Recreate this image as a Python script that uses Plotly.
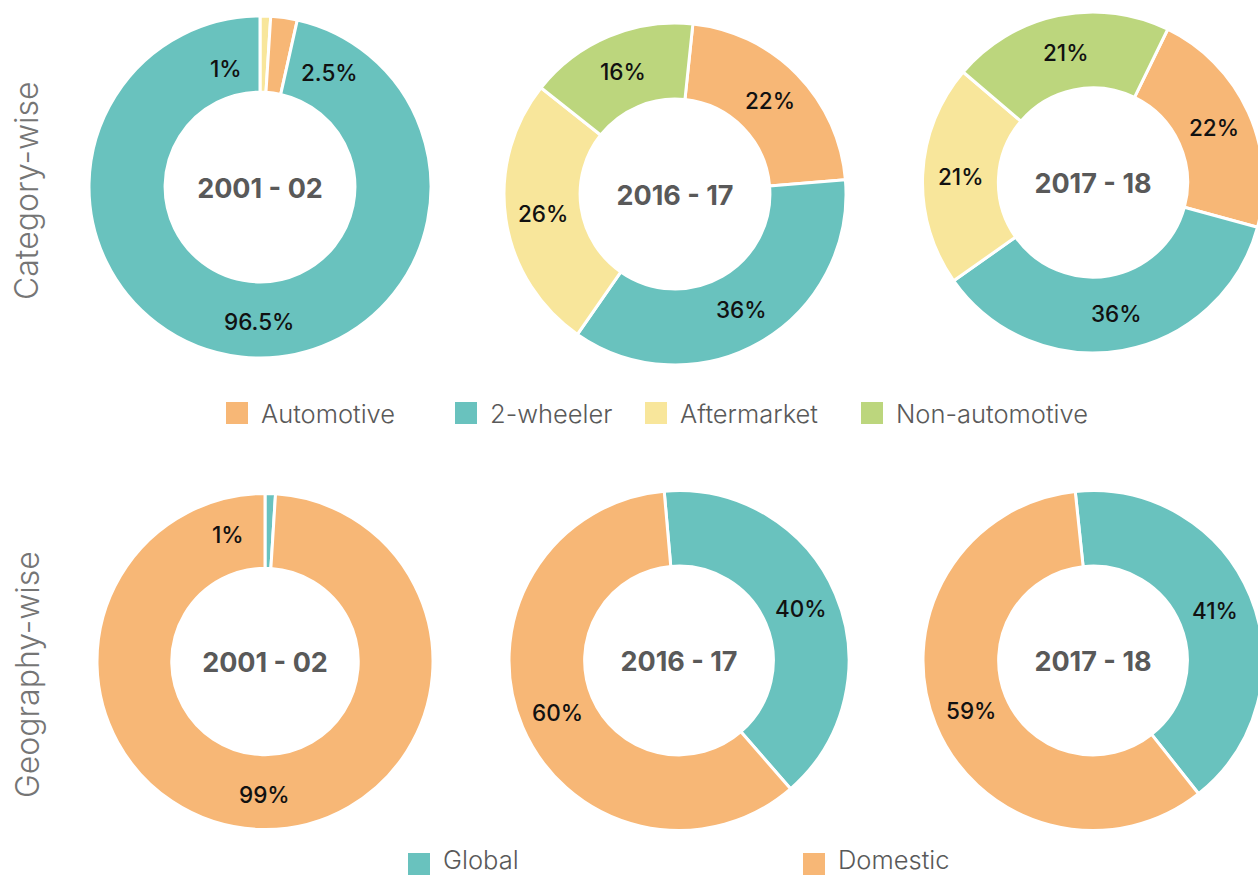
import math
import plotly.graph_objects as go

# ---------------- data ----------------
years = ["2001 - 02", "2016 - 17", "2017 - 18"]

cat_legend = ["Automotive", "2-wheeler", "Aftermarket", "Non-automotive"]
cat_2001_labels = ["Aftermarket", "Automotive", "2-wheeler"]
cat_2001_values = [1, 2.5, 96.5]
cat_recent_labels = ["Automotive", "2-wheeler", "Aftermarket", "Non-automotive"]
cat_2016_values = [22, 36, 26, 16]
cat_2017_values = [22, 36, 21, 21]

geo_legend = ["Global", "Domestic"]
geo_labels = ["Global", "Domestic"]
geo_2001_values = [1, 99]
geo_2016_values = [40, 60]
geo_2017_values = [41, 59]

row_titles = ["Category-wise", "Geography-wise"]

# ---------------- style ----------------
COLORS = {
    "Automotive": "#F7B776",
    "2-wheeler": "#69C2BE",
    "Aftermarket": "#F8E69B",
    "Non-automotive": "#BCD67D",
    "Global": "#69C2BE",
    "Domestic": "#F7B776",
}
W, H = 1270, 876
HOLE = 0.555
LABEL_FONT = dict(family="Inter, Montserrat, sans-serif", size=22.5, color="#111111", weight=500)
CENTER_FONT = dict(family="Inter, Montserrat, sans-serif", size=27, color="#595959", weight="bold")
LEG_FONT = dict(family="Inter, sans-serif", size=25.5, color="#595959", weight=300)
ROW_FONT = dict(family="Inter, sans-serif", size=32, color="#757575", weight=300)

# pie placement (pixels): center x, center y, radius, rotation, label pixel shifts
pies = [
    dict(labels=cat_2001_labels, values=cat_2001_values, title=years[0],
         cx=260, cy=187, r=171, rot=0, shifts={0: (-38, -14), 1: (51, -17), 2: (14, -2)}),
    dict(labels=cat_recent_labels, values=cat_2016_values, title=years[1],
         cx=675, cy=194, r=171, rot=6, shifts={}),
    dict(labels=cat_recent_labels, values=cat_2017_values, title=years[2],
         cx=1093, cy=182.5, r=170.5, rot=26, shifts={}),
    dict(labels=geo_labels, values=geo_2001_values, title=years[0],
         cx=265, cy=661.5, r=168, rot=0, shifts={0: (-41, -4), 1: (4, -2)}),
    dict(labels=geo_labels, values=geo_2016_values, title=years[1],
         cx=679, cy=660.5, r=170, rot=-5, shifts={}),
    dict(labels=geo_labels, values=geo_2017_values, title=years[2],
         cx=1093, cy=660.5, r=170, rot=-6, shifts={}),
]

fig = go.Figure()
annotations = []
shapes = []

for p in pies:
    cx, cy, r = p["cx"], p["cy"], p["r"]
    fig.add_trace(go.Pie(
        labels=p["labels"], values=p["values"],
        hole=HOLE, sort=False, direction="clockwise", rotation=p["rot"],
        marker=dict(colors=[COLORS[l] for l in p["labels"]],
                    line=dict(color="white", width=3)),
        textinfo="none", showlegend=False, hoverinfo="label+percent",
        title=dict(text=p["title"], position="middle center", font=CENTER_FONT),
        domain=dict(x=[(cx - r) / W, (cx + r) / W],
                    y=[1 - (cy + r) / H, 1 - (cy - r) / H]),
    ))
    total = sum(p["values"])
    cum = 0
    rmid = r * (1 + HOLE) / 2
    for i, v in enumerate(p["values"]):
        mid = p["rot"] + (cum + v / 2) / total * 360
        cum += v
        ang = math.radians(mid)
        px = cx + rmid * math.sin(ang)
        py = cy - rmid * math.cos(ang)
        dx, dy = p["shifts"].get(i, (0, 0))
        annotations.append(dict(
            x=px / W, y=1 - py / H, xref="paper", yref="paper",
            text=f"{v:g}%", showarrow=False, font=LABEL_FONT,
            xshift=dx, yshift=dy, xanchor="center", yanchor="middle"))

# legends (drawn as swatch + text)
def add_legend(items, xs, yc, ytext):
    for name, x0 in zip(items, xs):
        shapes.append(dict(type="rect", xref="paper", yref="paper",
                           x0=x0 / W, x1=(x0 + 22) / W,
                           y0=1 - (yc + 11) / H, y1=1 - (yc - 11) / H,
                           fillcolor=COLORS[name], line=dict(width=0)))
        annotations.append(dict(x=(x0 + 34) / W, y=1 - ytext / H, xref="paper", yref="paper",
                                text=name, showarrow=False, font=LEG_FONT, borderpad=0,
                                xanchor="left", yanchor="middle"))

add_legend(cat_legend, [226, 455, 645, 861], 413, 413)
add_legend(geo_legend, [408, 803], 864, 859)

# row titles
for t, yc in zip(row_titles, [191, 675]):
    annotations.append(dict(x=27 / W, y=1 - yc / H, xref="paper", yref="paper",
                            text=t, showarrow=False, textangle=-90, font=ROW_FONT,
                            xanchor="center", yanchor="middle"))

fig.update_layout(
    width=W, height=H,
    margin=dict(l=0, r=0, t=0, b=0),
    paper_bgcolor="white", plot_bgcolor="white",
    annotations=annotations, shapes=shapes,
    showlegend=False,
)

fig.write_html("out.html", config={"displayModeBar": False},
               post_script="document.body.style.margin='0';document.body.style.overflow='hidden';")
